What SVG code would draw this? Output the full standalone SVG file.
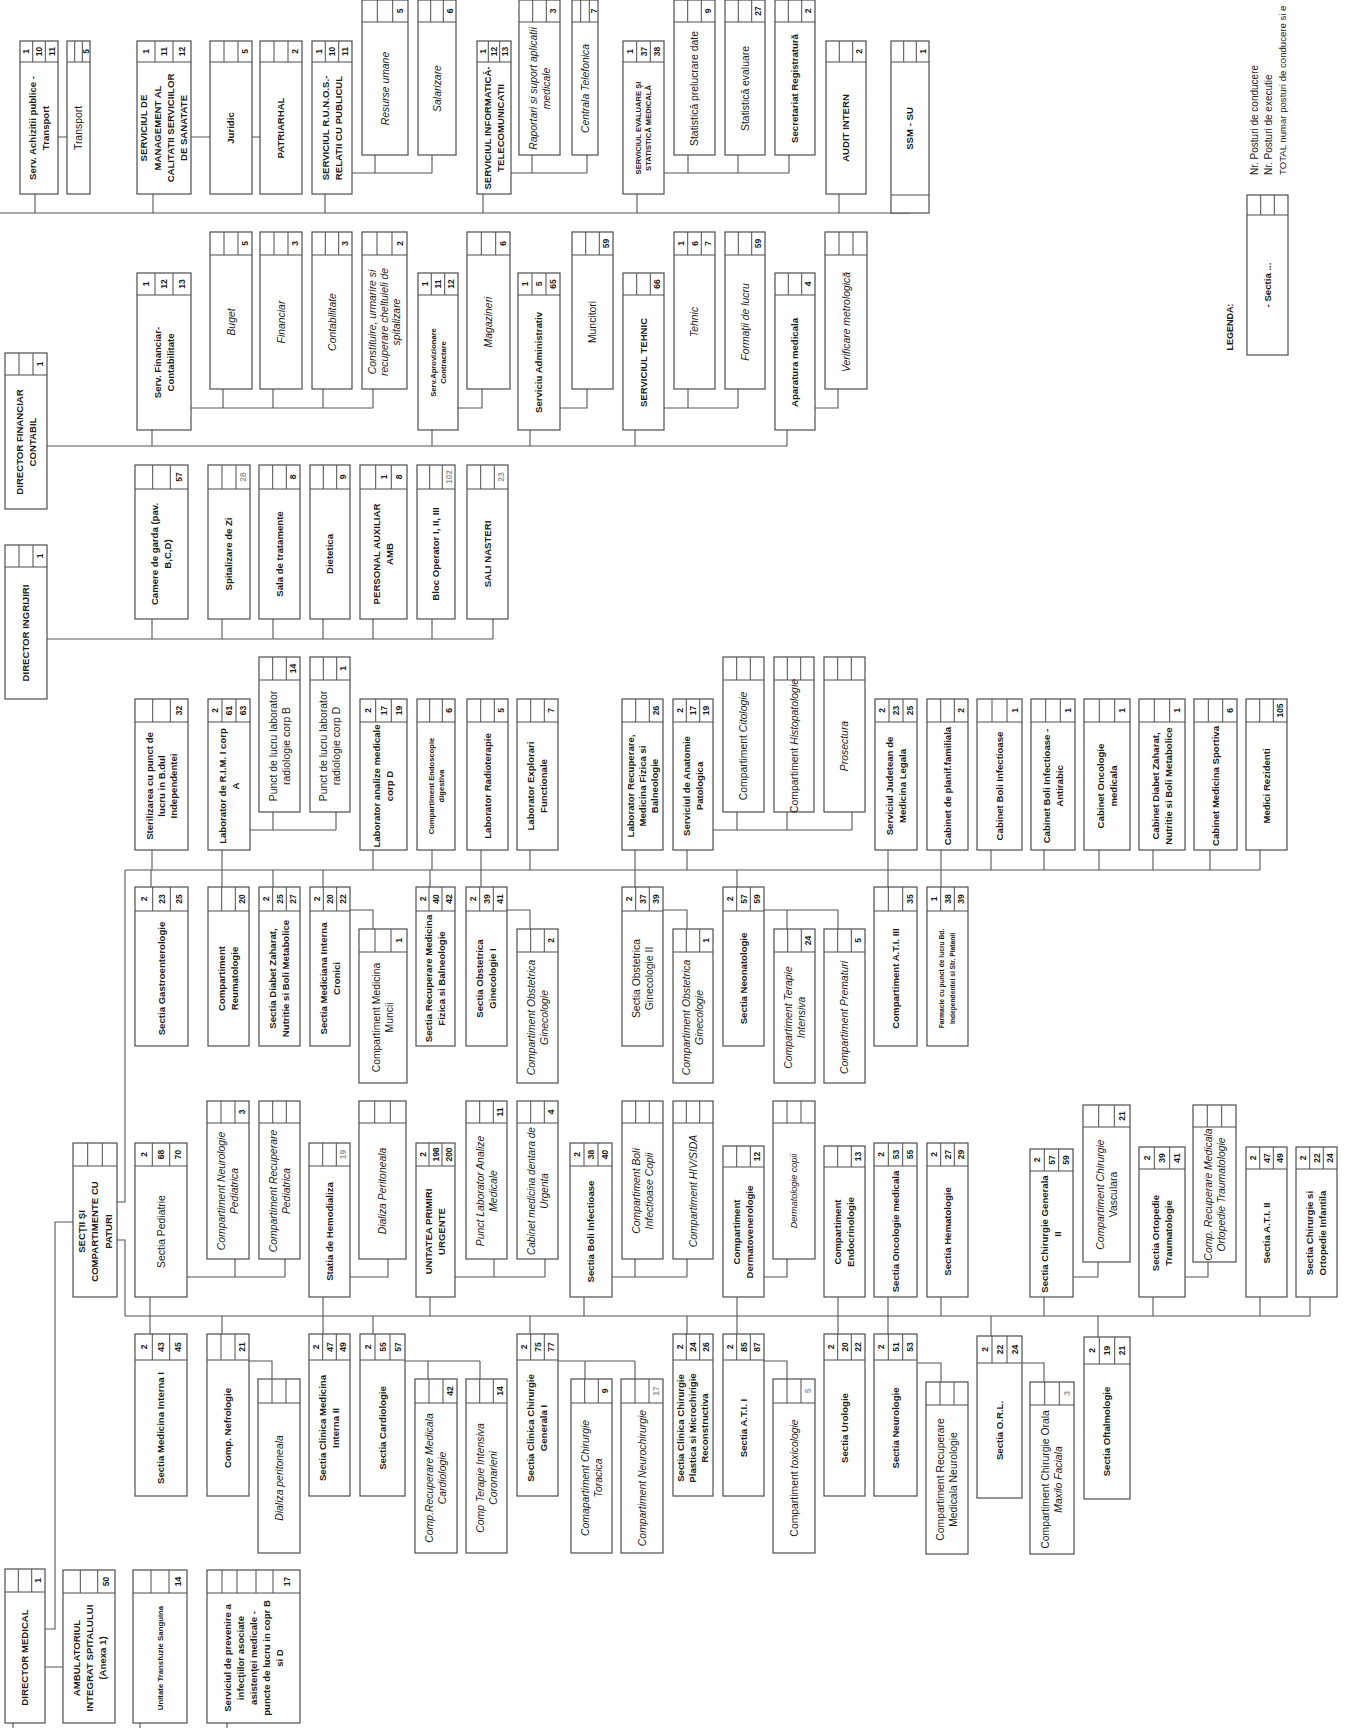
<svg xmlns="http://www.w3.org/2000/svg" width="1351" height="1728" viewBox="0 0 1351 1728">
<style>
.bx rect{fill:#fff;stroke:#4d4d4d;stroke-width:1.2}
.bx path{fill:none;stroke:#4d4d4d;stroke-width:1}
#connectors path{fill:none;stroke:#555;stroke-width:1.1}
text{font-family:"Liberation Sans",Arial,sans-serif;fill:#1a1a1a;text-anchor:middle}
.b{font-size:9.6px;font-weight:bold}
.r{font-size:10.4px}
.i{font-size:10.4px;font-style:italic}
.s{font-size:7.6px;font-weight:bold}
.n{font-size:8.5px;font-weight:bold}
.f{fill:#9a9a9a}
.lg{font-size:10px;text-anchor:start}
</style>
<rect width="1351" height="1728" fill="#fff"/>
<g id="connectors">
<path d="M0 213H910M35 194V213M153 194V213M325 194V213M483 194V213M637 194V213M839 194V213M58 137H67M191 137H210M252 137H260M352 173H432M375 173V155M432 173V155M510 173H587M532 173V155M587 173V155M664 173H789M688 173V155M738 173V155M789 173V155"/>
<path d="M47 446H787M152 430V446M432 430V446M530 430V446M635 430V446M787 430V446M191 408H373M223 389V408M273 389V408M323 389V408M373 389V408M458 408H482V389M560 408H587V389M664 408H738M688 389V408M738 389V408M815 408H838V389"/>
<path d="M47 639H493M152 619V639M222 619V639M273 619V639M323 619V639M373 619V639M432 619V639M493 619V639"/>
<path d="M125 870H1260M152 850V870M222 850V870M373 850V870M432 850V870M481 850V870M530 850V870M635 850V870M687 850V870M888 850V870M941 850V870M991 850V870M1044 850V870M1099 850V870M1153 850V870M1210 850V870M1260 850V870M250 830H336M273 812V830M336 812V830M713 830H852M737 812V830M787 812V830M852 812V830"/>
<path d="M151 870V887M222 870V887M273 870V887M323 870V887M430 870V887M481 870V887M635 870V887M737 870V887M888 870V887M941 870V887M350 910H373V929M507 910H530V929M663 910H687V929M764 910H838M787 910V929M838 910V929"/>
<path d="M117 1202H125V870M117 1240H125V1316M73 1222H55V1629H45M45 1667H63M125 1316H1310"/>
<path d="M150 1297V1316M323 1297V1316M430 1297V1316M584 1297V1316M737 1297V1316M838 1297V1316M888 1297V1316M941 1297V1316M1044 1297V1316M1153 1297V1316M1260 1297V1316M1310 1297V1316M187 1277H285M235 1259V1277M285 1259V1277M350 1277H388V1259M455 1277H545M494 1259V1277M545 1259V1277M612 1277H687M635 1259V1277M687 1259V1277M764 1277H787V1259M1073 1277H1098V1262M1185 1277H1208V1262"/>
<path d="M150 1316V1334M222 1316V1334M323 1316V1334M373 1316V1334M530 1316V1334M687 1316V1334M737 1316V1334M838 1316V1334M888 1316V1334M991 1316V1336M1098 1316V1337M249 1361H272V1379M405 1361H480M428 1361V1379M480 1361V1379M558 1361H635M585 1361V1379M635 1361V1379M764 1361H787V1379M917 1363H941V1382M1022 1363H1044V1382"/>
<path d="M13 1723V1728M140 1723V1728M227 1723V1728"/>
</g>

<g id="serv-achizitii" class="bx" transform="translate(20,41)"><rect width="38" height="153"/><path d="M0 21H38M12.7 0V21M25.3 0V21"/><text class="b" transform="translate(19,87)rotate(-90)"><tspan x="0" y="-3.1">Serv. Achizitii publice -</tspan><tspan x="0" y="9.9">Transport</tspan></text><text class="n" transform="translate(6.3,10.5)rotate(-90)" y="3">1</text><text class="n" transform="translate(19,10.5)rotate(-90)" y="3">10</text><text class="n" transform="translate(31.7,10.5)rotate(-90)" y="3">11</text></g>
<g id="transport" class="bx" transform="translate(67,41)"><rect width="23" height="153"/><path d="M0 21H23M7.7 0V21M15.3 0V21"/><text class="r" transform="translate(11.5,87)rotate(-90)" y="3.7">Transport</text><text class="n" transform="translate(19.2,10.5)rotate(-90)" y="3">5</text></g>
<g id="management-calitate" class="bx" transform="translate(137,41)"><rect width="54" height="153"/><path d="M0 21H54M18 0V21M36 0V21"/><text class="b" transform="translate(27,87)rotate(-90)"><tspan x="0" y="-16.6">SERVICIUL DE</tspan><tspan x="0" y="-3.3">MANAGEMENT AL</tspan><tspan x="0" y="10.1">CALITATII SERVICIILOR</tspan><tspan x="0" y="23.4">DE SANATATE</tspan></text><text class="n" transform="translate(9,10.5)rotate(-90)" y="3">1</text><text class="n" transform="translate(27,10.5)rotate(-90)" y="3">11</text><text class="n" transform="translate(45,10.5)rotate(-90)" y="3">12</text></g>
<g id="juridic" class="bx" transform="translate(210,41)"><rect width="42" height="153"/><path d="M0 21H42M14 0V21M28 0V21"/><text class="b" transform="translate(21,87)rotate(-90)" y="3.4">Juridic</text><text class="n" transform="translate(35,10.5)rotate(-90)" y="3">5</text></g>
<g id="patriarhal" class="bx" transform="translate(260,41)"><rect width="42" height="153"/><path d="M0 21H42M14 0V21M28 0V21"/><text class="b" transform="translate(21,87)rotate(-90)" y="3.4">PATRIARHAL</text><text class="n" transform="translate(35,10.5)rotate(-90)" y="3">2</text></g>
<g id="runos" class="bx" transform="translate(312,41)"><rect width="40" height="153"/><path d="M0 21H40M13.3 0V21M26.7 0V21"/><text class="b" transform="translate(20,87)rotate(-90)"><tspan x="0" y="-3.1">SERVICIUL R.U.N.O.S.-</tspan><tspan x="0" y="9.9">RELATII CU PUBLICUL</tspan></text><text class="n" transform="translate(6.7,10.5)rotate(-90)" y="3">1</text><text class="n" transform="translate(20,10.5)rotate(-90)" y="3">10</text><text class="n" transform="translate(33.3,10.5)rotate(-90)" y="3">11</text></g>
<g id="resurse-umane" class="bx" transform="translate(362,0)"><rect width="46" height="155"/><path d="M0 22H46M15.3 0V22M30.7 0V22"/><text class="i" transform="translate(23,88.5)rotate(-90)" y="3.7">Resurse umane</text><text class="n" transform="translate(38.3,11)rotate(-90)" y="3">5</text></g>
<g id="salarizare" class="bx" transform="translate(418,0)"><rect width="38" height="155"/><path d="M0 22H38M12.7 0V22M25.3 0V22"/><text class="i" transform="translate(19,88.5)rotate(-90)" y="3.7">Salarizare</text><text class="n" transform="translate(31.7,11)rotate(-90)" y="3">6</text></g>
<g id="informatica" class="bx" transform="translate(477,41)"><rect width="34" height="153"/><path d="M0 21H34M11.3 0V21M22.7 0V21"/><text class="b" transform="translate(17,87)rotate(-90)"><tspan x="0" y="-3.1">SERVICIUL INFORMATICĂ-</tspan><tspan x="0" y="9.9">TELECOMUNICATII</tspan></text><text class="n" transform="translate(5.7,10.5)rotate(-90)" y="3">1</text><text class="n" transform="translate(17,10.5)rotate(-90)" y="3">12</text><text class="n" transform="translate(28.3,10.5)rotate(-90)" y="3">13</text></g>
<g id="raportari" class="bx" transform="translate(519,0)"><rect width="41" height="155"/><path d="M0 22H41M13.7 0V22M27.3 0V22"/><text class="i" transform="translate(20.5,88.5)rotate(-90)"><tspan x="0" y="-2.8">Raportari si suport aplicatii</tspan><tspan x="0" y="10.2">medicale</tspan></text><text class="n" transform="translate(34.2,11)rotate(-90)" y="3">3</text></g>
<g id="centrala" class="bx" transform="translate(572,0)"><rect width="26" height="155"/><path d="M0 22H26M8.7 0V22M17.3 0V22"/><text class="i" transform="translate(13,88.5)rotate(-90)" y="3.7">Centrala Telefonica</text><text class="n" transform="translate(21.7,11)rotate(-90)" y="3">7</text></g>
<g id="evaluare-statistica" class="bx" transform="translate(623,41)"><rect width="41" height="153"/><path d="M0 21H41M13.7 0V21M27.3 0V21"/><text class="s" transform="translate(20.5,87)rotate(-90)"><tspan x="0" y="-2.1">SERVICIUL EVALUARE ŞI</tspan><tspan x="0" y="7.5">STATISTICĂ MEDICALĂ</tspan></text><text class="n" transform="translate(6.8,10.5)rotate(-90)" y="3">1</text><text class="n" transform="translate(20.5,10.5)rotate(-90)" y="3">37</text><text class="n" transform="translate(34.2,10.5)rotate(-90)" y="3">38</text></g>
<g id="statistica-prelucrare" class="bx" transform="translate(674,0)"><rect width="41" height="155"/><path d="M0 22H41M13.7 0V22M27.3 0V22"/><text class="r" transform="translate(20.5,88.5)rotate(-90)" y="3.7">Statistică prelucrare date</text><text class="n" transform="translate(34.2,11)rotate(-90)" y="3">9</text></g>
<g id="statistica-evaluare" class="bx" transform="translate(725,0)"><rect width="40" height="155"/><path d="M0 22H40M13.3 0V22M26.7 0V22"/><text class="r" transform="translate(20,88.5)rotate(-90)" y="3.7">Statistică evaluare</text><text class="n" transform="translate(33.3,11)rotate(-90)" y="3">27</text></g>
<g id="secretariat" class="bx" transform="translate(775,0)"><rect width="40" height="155"/><path d="M0 22H40M13.3 0V22M26.7 0V22"/><text class="b" transform="translate(20,88.5)rotate(-90)" y="3.4">Secretariat Registratură</text><text class="n" transform="translate(33.3,11)rotate(-90)" y="3">2</text></g>
<g id="audit-intern" class="bx" transform="translate(826,41)"><rect width="40" height="153"/><path d="M0 21H40M13.3 0V21M26.7 0V21"/><text class="b" transform="translate(20,87)rotate(-90)" y="3.4">AUDIT INTERN</text><text class="n" transform="translate(33.3,10.5)rotate(-90)" y="3">2</text></g>
<g id="ssm-su" class="bx" transform="translate(891,41)"><rect width="38" height="172"/><path d="M0 21H38M12.7 0V21M25.3 0V21M0 154H38"/><text class="b" transform="translate(19,87.5)rotate(-90)" y="3.4">SSM - SU</text><text class="n" transform="translate(31.7,10.5)rotate(-90)" y="3">1</text></g>

<g id="director-financiar" class="bx" transform="translate(5,353)"><rect width="42" height="156"/><path d="M0 22H42M14 0V22M28 0V22"/><text class="b" transform="translate(21,89)rotate(-90)"><tspan x="0" y="-3.1">DIRECTOR FINANCIAR</tspan><tspan x="0" y="9.9">CONTABIL</tspan></text><text class="n" transform="translate(35,11)rotate(-90)" y="3">1</text></g>
<g id="serv-financiar" class="bx" transform="translate(137,273)"><rect width="54" height="157"/><path d="M0 22H54M18 0V22M36 0V22"/><text class="b" transform="translate(27,89.5)rotate(-90)"><tspan x="0" y="-3.1">Serv.  Financiar-</tspan><tspan x="0" y="9.9">Contabilitate</tspan></text><text class="n" transform="translate(9,11)rotate(-90)" y="3">1</text><text class="n" transform="translate(27,11)rotate(-90)" y="3">12</text><text class="n" transform="translate(45,11)rotate(-90)" y="3">13</text></g>
<g id="buget" class="bx" transform="translate(210,232)"><rect width="42" height="157"/><path d="M0 23H42M14 0V23M28 0V23"/><text class="i" transform="translate(21,90)rotate(-90)" y="3.7">Buget</text><text class="n" transform="translate(35,11.5)rotate(-90)" y="3">5</text></g>
<g id="financiar" class="bx" transform="translate(260,232)"><rect width="42" height="157"/><path d="M0 23H42M14 0V23M28 0V23"/><text class="i" transform="translate(21,90)rotate(-90)" y="3.7">Financiar</text><text class="n" transform="translate(35,11.5)rotate(-90)" y="3">3</text></g>
<g id="contabilitate" class="bx" transform="translate(312,232)"><rect width="40" height="157"/><path d="M0 23H40M13.3 0V23M26.7 0V23"/><text class="i" transform="translate(20,90)rotate(-90)" y="3.7">Contabilitate</text><text class="n" transform="translate(33.3,11.5)rotate(-90)" y="3">3</text></g>
<g id="constituire" class="bx" transform="translate(362,232)"><rect width="45" height="157"/><path d="M0 23H45M15 0V23M30 0V23"/><text class="i" transform="translate(22.5,90)rotate(-90)"><tspan x="0" y="-8.3">Constituire, urmarire si</tspan><tspan x="0" y="3.7">recuperare cheltuieli de</tspan><tspan x="0" y="15.7">spitalizare</tspan></text><text class="n" transform="translate(37.5,11.5)rotate(-90)" y="3">2</text></g>
<g id="aprovizionare" class="bx" transform="translate(418,273)"><rect width="40" height="157"/><path d="M0 22H40M13.3 0V22M26.7 0V22"/><text class="s" transform="translate(20,89.5)rotate(-90)"><tspan x="0" y="-2.1">Serv.Aprovizionare</tspan><tspan x="0" y="7.5">Contractare</tspan></text><text class="n" transform="translate(6.7,11)rotate(-90)" y="3">1</text><text class="n" transform="translate(20,11)rotate(-90)" y="3">11</text><text class="n" transform="translate(33.3,11)rotate(-90)" y="3">12</text></g>
<g id="magazineri" class="bx" transform="translate(467,232)"><rect width="43" height="157"/><path d="M0 23H43M14.3 0V23M28.7 0V23"/><text class="i" transform="translate(21.5,90)rotate(-90)" y="3.7">Magazineri</text><text class="n" transform="translate(35.8,11.5)rotate(-90)" y="3">6</text></g>
<g id="serviciu-administrativ" class="bx" transform="translate(518,273)"><rect width="42" height="157"/><path d="M0 22H42M14 0V22M28 0V22"/><text class="b" transform="translate(21,89.5)rotate(-90)" y="3.4">Serviciu Administrativ</text><text class="n" transform="translate(7,11)rotate(-90)" y="3">1</text><text class="n" transform="translate(21,11)rotate(-90)" y="3">5</text><text class="n" transform="translate(35,11)rotate(-90)" y="3">65</text></g>
<g id="muncitori" class="bx" transform="translate(572,232)"><rect width="41" height="157"/><path d="M0 23H41M13.7 0V23M27.3 0V23"/><text class="r" transform="translate(20.5,90)rotate(-90)" y="3.7">Muncitori</text><text class="n" transform="translate(34.2,11.5)rotate(-90)" y="3">59</text></g>
<g id="serviciul-tehnic" class="bx" transform="translate(623,273)"><rect width="41" height="157"/><path d="M0 22H41M13.7 0V22M27.3 0V22"/><text class="b" transform="translate(20.5,89.5)rotate(-90)" y="3.4">SERVICIUL TEHNIC</text><text class="n" transform="translate(34.2,11)rotate(-90)" y="3">66</text></g>
<g id="tehnic" class="bx" transform="translate(674,232)"><rect width="41" height="157"/><path d="M0 23H41M13.7 0V23M27.3 0V23"/><text class="i" transform="translate(20.5,90)rotate(-90)" y="3.7">Tehnic</text><text class="n" transform="translate(6.8,11.5)rotate(-90)" y="3">1</text><text class="n" transform="translate(20.5,11.5)rotate(-90)" y="3">6</text><text class="n" transform="translate(34.2,11.5)rotate(-90)" y="3">7</text></g>
<g id="formatii" class="bx" transform="translate(725,232)"><rect width="40" height="157"/><path d="M0 23H40M13.3 0V23M26.7 0V23"/><text class="i" transform="translate(20,90)rotate(-90)" y="3.7">Formaţii de lucru</text><text class="n" transform="translate(33.3,11.5)rotate(-90)" y="3">59</text></g>
<g id="aparatura" class="bx" transform="translate(775,273)"><rect width="40" height="157"/><path d="M0 22H40M13.3 0V22M26.7 0V22"/><text class="b" transform="translate(20,89.5)rotate(-90)" y="3.4">Aparatura medicala</text><text class="n" transform="translate(33.3,11)rotate(-90)" y="3">4</text></g>
<g id="verificare" class="bx" transform="translate(825,232)"><rect width="42" height="157"/><path d="M0 23H42M14 0V23M28 0V23"/><text class="i" transform="translate(21,90)rotate(-90)" y="3.7">Verificare metrologică</text></g>

<g id="director-ingrijiri" class="bx" transform="translate(5,545)"><rect width="42" height="154"/><path d="M0 22H42M14 0V22M28 0V22"/><text class="b" transform="translate(21,88)rotate(-90)" y="3.4">DIRECTOR INGRIJIRI</text><text class="n" transform="translate(35,11)rotate(-90)" y="3">1</text></g>
<g id="camere-garda" class="bx" transform="translate(135,465)"><rect width="53" height="154"/><path d="M0 24H53M17.7 0V24M35.3 0V24"/><text class="b" transform="translate(26.5,89)rotate(-90)"><tspan x="0" y="-3.1">Camere de garda (pav.</tspan><tspan x="0" y="9.9">B,C,D)</tspan></text><text class="n" transform="translate(44.2,12)rotate(-90)" y="3">57</text></g>
<g id="spitalizare-zi" class="bx" transform="translate(208,465)"><rect width="42" height="154"/><path d="M0 24H42M14 0V24M28 0V24"/><text class="b" transform="translate(21,89)rotate(-90)" y="3.4">Spitalizare de Zi</text><text class="n f" transform="translate(35,12)rotate(-90)" y="3">28</text></g>
<g id="sala-tratamente" class="bx" transform="translate(259,465)"><rect width="41" height="154"/><path d="M0 24H41M13.7 0V24M27.3 0V24"/><text class="b" transform="translate(20.5,89)rotate(-90)" y="3.4">Sala de tratamente</text><text class="n" transform="translate(34.2,12)rotate(-90)" y="3">8</text></g>
<g id="dietetica" class="bx" transform="translate(310,465)"><rect width="40" height="154"/><path d="M0 24H40M13.3 0V24M26.7 0V24"/><text class="b" transform="translate(20,89)rotate(-90)" y="3.4">Dietetica</text><text class="n" transform="translate(33.3,12)rotate(-90)" y="3">9</text></g>
<g id="personal-auxiliar" class="bx" transform="translate(360,465)"><rect width="47" height="154"/><path d="M0 24H47M15.7 0V24M31.3 0V24"/><text class="b" transform="translate(23.5,89)rotate(-90)"><tspan x="0" y="-3.1">PERSONAL AUXILIAR</tspan><tspan x="0" y="9.9">AMB</tspan></text><text class="n" transform="translate(23.5,12)rotate(-90)" y="3">1</text><text class="n" transform="translate(39.2,12)rotate(-90)" y="3">8</text></g>
<g id="bloc-operator" class="bx" transform="translate(417,465)"><rect width="38" height="154"/><path d="M0 24H38M12.7 0V24M25.3 0V24"/><text class="b" transform="translate(19,89)rotate(-90)" y="3.4">Bloc Operator I, II, III</text><text class="n f" transform="translate(31.7,12)rotate(-90)" y="3">102</text></g>
<g id="sali-nasteri" class="bx" transform="translate(467,465)"><rect width="41" height="154"/><path d="M0 24H41M13.7 0V24M27.3 0V24"/><text class="b" transform="translate(20.5,89)rotate(-90)" y="3.4">SALI NASTERI</text><text class="n f" transform="translate(34.2,12)rotate(-90)" y="3">23</text></g>

<g id="sterilizare" class="bx" transform="translate(135,699)"><rect width="53" height="151"/><path d="M0 23H53M17.7 0V23M35.3 0V23"/><text class="b" transform="translate(26.5,87)rotate(-90)"><tspan x="0" y="-8.6">Sterilizarea cu punct de</tspan><tspan x="0" y="3.4">lucru in B.dul</tspan><tspan x="0" y="15.4">Independentei</tspan></text><text class="n" transform="translate(44.2,11.5)rotate(-90)" y="3">32</text></g>
<g id="laborator-rim" class="bx" transform="translate(208,699)"><rect width="42" height="151"/><path d="M0 23H42M14 0V23M28 0V23"/><text class="b" transform="translate(21,87)rotate(-90)"><tspan x="0" y="-3.1">Laborator de R.I.M. I corp</tspan><tspan x="0" y="9.9">A</tspan></text><text class="n" transform="translate(7,11.5)rotate(-90)" y="3">2</text><text class="n" transform="translate(21,11.5)rotate(-90)" y="3">61</text><text class="n" transform="translate(35,11.5)rotate(-90)" y="3">63</text></g>
<g id="radiologie-b" class="bx" transform="translate(259,657)"><rect width="41" height="155"/><path d="M0 23H41M13.7 0V23M27.3 0V23"/><text class="r" transform="translate(20.5,89)rotate(-90)"><tspan x="0" y="-2.8">Punct de lucru laborator</tspan><tspan x="0" y="10.2">radiologie corp B</tspan></text><text class="n" transform="translate(34.2,11.5)rotate(-90)" y="3">14</text></g>
<g id="radiologie-d" class="bx" transform="translate(310,657)"><rect width="40" height="155"/><path d="M0 23H40M13.3 0V23M26.7 0V23"/><text class="r" transform="translate(20,89)rotate(-90)"><tspan x="0" y="-2.8">Punct de lucru laborator</tspan><tspan x="0" y="10.2">radiologie corp D</tspan></text><text class="n" transform="translate(33.3,11.5)rotate(-90)" y="3">1</text></g>
<g id="laborator-analize" class="bx" transform="translate(360,699)"><rect width="47" height="151"/><path d="M0 23H47M15.7 0V23M31.3 0V23"/><text class="b" transform="translate(23.5,87)rotate(-90)"><tspan x="0" y="-3.1">Laborator analize medicale</tspan><tspan x="0" y="9.9">corp D</tspan></text><text class="n" transform="translate(7.8,11.5)rotate(-90)" y="3">2</text><text class="n" transform="translate(23.5,11.5)rotate(-90)" y="3">17</text><text class="n" transform="translate(39.2,11.5)rotate(-90)" y="3">19</text></g>
<g id="endoscopie" class="bx" transform="translate(417,699)"><rect width="38" height="151"/><path d="M0 23H38M12.7 0V23M25.3 0V23"/><text class="s" transform="translate(19,87)rotate(-90)"><tspan x="0" y="-2.1">Compartiment Endoscopie</tspan><tspan x="0" y="7.5">digestiva</tspan></text><text class="n" transform="translate(31.7,11.5)rotate(-90)" y="3">6</text></g>
<g id="radioterapie" class="bx" transform="translate(467,699)"><rect width="41" height="151"/><path d="M0 23H41M13.7 0V23M27.3 0V23"/><text class="b" transform="translate(20.5,87)rotate(-90)" y="3.4">Laborator Radioterapie</text><text class="n" transform="translate(34.2,11.5)rotate(-90)" y="3">5</text></g>
<g id="explorari" class="bx" transform="translate(517,699)"><rect width="41" height="151"/><path d="M0 23H41M13.7 0V23M27.3 0V23"/><text class="b" transform="translate(20.5,87)rotate(-90)"><tspan x="0" y="-3.1">Laborator Explorari</tspan><tspan x="0" y="9.9">Functionale</tspan></text><text class="n" transform="translate(34.2,11.5)rotate(-90)" y="3">7</text></g>
<g id="lab-recuperare" class="bx" transform="translate(622,699)"><rect width="41" height="151"/><path d="M0 23H41M13.7 0V23M27.3 0V23"/><text class="b" transform="translate(20.5,87)rotate(-90)"><tspan x="0" y="-8.6">Laborator Recuperare,</tspan><tspan x="0" y="3.4">Medicina Fizica si</tspan><tspan x="0" y="15.4">Balneologie</tspan></text><text class="n" transform="translate(34.2,11.5)rotate(-90)" y="3">26</text></g>
<g id="anatomie-patologica" class="bx" transform="translate(673,699)"><rect width="40" height="151"/><path d="M0 23H40M13.3 0V23M26.7 0V23"/><text class="b" transform="translate(20,87)rotate(-90)"><tspan x="0" y="-3.1">Serviciul de Anatomie</tspan><tspan x="0" y="9.9">Patologica</tspan></text><text class="n" transform="translate(6.7,11.5)rotate(-90)" y="3">2</text><text class="n" transform="translate(20,11.5)rotate(-90)" y="3">17</text><text class="n" transform="translate(33.3,11.5)rotate(-90)" y="3">19</text></g>
<g id="citologie" class="bx" transform="translate(723,657)"><rect width="41" height="155"/><path d="M0 23H41M13.7 0V23M27.3 0V23"/><text class="r" transform="translate(20.5,89)rotate(-90)" y="3.7">Compartiment <tspan font-style="italic">Citologie</tspan></text></g>
<g id="histopatologie" class="bx" transform="translate(774,657)"><rect width="40" height="155"/><path d="M0 23H40M13.3 0V23M26.7 0V23"/><text class="r" transform="translate(20,89)rotate(-90)" y="3.7">Compartiment <tspan font-style="italic">Histopatologie</tspan></text></g>
<g id="prosectura" class="bx" transform="translate(824,657)"><rect width="41" height="155"/><path d="M0 23H41M13.7 0V23M27.3 0V23"/><text class="i" transform="translate(20.5,89)rotate(-90)" y="3.7">Prosectura</text></g>
<g id="medicina-legala" class="bx" transform="translate(875,699)"><rect width="42" height="151"/><path d="M0 23H42M14 0V23M28 0V23"/><text class="b" transform="translate(21,87)rotate(-90)"><tspan x="0" y="-3.1">Serviciul Judetean de</tspan><tspan x="0" y="9.9">Medicina Legala</tspan></text><text class="n" transform="translate(7,11.5)rotate(-90)" y="3">2</text><text class="n" transform="translate(21,11.5)rotate(-90)" y="3">23</text><text class="n" transform="translate(35,11.5)rotate(-90)" y="3">25</text></g>
<g id="cabinet-planificare" class="bx" transform="translate(927,699)"><rect width="41" height="151"/><path d="M0 23H41M13.7 0V23M27.3 0V23"/><text class="b" transform="translate(20.5,87)rotate(-90)" y="3.4">Cabinet de planif.familiala</text><text class="n" transform="translate(34.2,11.5)rotate(-90)" y="3">2</text></g>
<g id="cabinet-boli-inf" class="bx" transform="translate(977,699)"><rect width="45" height="151"/><path d="M0 23H45M15 0V23M30 0V23"/><text class="b" transform="translate(22.5,87)rotate(-90)" y="3.4">Cabinet Boli Infectioase</text><text class="n" transform="translate(37.5,11.5)rotate(-90)" y="3">1</text></g>
<g id="cabinet-antirabic" class="bx" transform="translate(1031,699)"><rect width="44" height="151"/><path d="M0 23H44M14.7 0V23M29.3 0V23"/><text class="b" transform="translate(22,87)rotate(-90)"><tspan x="0" y="-3.1">Cabinet Boli Infectioase -</tspan><tspan x="0" y="9.9">Antirabic</tspan></text><text class="n" transform="translate(36.7,11.5)rotate(-90)" y="3">1</text></g>
<g id="cabinet-oncologie" class="bx" transform="translate(1084,699)"><rect width="46" height="151"/><path d="M0 23H46M15.3 0V23M30.7 0V23"/><text class="b" transform="translate(23,87)rotate(-90)"><tspan x="0" y="-3.1">Cabinet Oncologie</tspan><tspan x="0" y="9.9">medicala</tspan></text><text class="n" transform="translate(38.3,11.5)rotate(-90)" y="3">1</text></g>
<g id="cabinet-diabet" class="bx" transform="translate(1139,699)"><rect width="46" height="151"/><path d="M0 23H46M15.3 0V23M30.7 0V23"/><text class="b" transform="translate(23,87)rotate(-90)"><tspan x="0" y="-3.1">Cabinet Diabet Zaharat,</tspan><tspan x="0" y="9.9">Nutritie si Boli Metabolice</tspan></text><text class="n" transform="translate(38.3,11.5)rotate(-90)" y="3">1</text></g>
<g id="cabinet-sportiva" class="bx" transform="translate(1194,699)"><rect width="43" height="151"/><path d="M0 23H43M14.3 0V23M28.7 0V23"/><text class="b" transform="translate(21.5,87)rotate(-90)" y="3.4">Cabinet Medicina Sportiva</text><text class="n" transform="translate(35.8,11.5)rotate(-90)" y="3">6</text></g>
<g id="medici-rezidenti" class="bx" transform="translate(1246,699)"><rect width="41" height="151"/><path d="M0 23H41M13.7 0V23M27.3 0V23"/><text class="b" transform="translate(20.5,87)rotate(-90)" y="3.4">Medici Rezidenti</text><text class="n" transform="translate(34.2,11.5)rotate(-90)" y="3">105</text></g>

<g id="gastroenterologie" class="bx" transform="translate(135,887)"><rect width="53" height="159"/><path d="M0 24H53M17.7 0V24M35.3 0V24"/><text class="b" transform="translate(26.5,91.5)rotate(-90)" y="3.4">Sectia  Gastroenterologie</text><text class="n" transform="translate(8.8,12)rotate(-90)" y="3">2</text><text class="n" transform="translate(26.5,12)rotate(-90)" y="3">23</text><text class="n" transform="translate(44.2,12)rotate(-90)" y="3">25</text></g>
<g id="reumatologie" class="bx" transform="translate(208,887)"><rect width="41" height="159"/><path d="M0 24H41M13.7 0V24M27.3 0V24"/><text class="b" transform="translate(20.5,91.5)rotate(-90)"><tspan x="0" y="-3.1">Compartiment</tspan><tspan x="0" y="9.9">Reumatologie</tspan></text><text class="n" transform="translate(34.2,12)rotate(-90)" y="3">20</text></g>
<g id="sectia-diabet" class="bx" transform="translate(259,887)"><rect width="41" height="159"/><path d="M0 24H41M13.7 0V24M27.3 0V24"/><text class="b" transform="translate(20.5,91.5)rotate(-90)"><tspan x="0" y="-3.1">Sectia Diabet Zaharat,</tspan><tspan x="0" y="9.9">Nutritie si Boli Metabolice</tspan></text><text class="n" transform="translate(6.8,12)rotate(-90)" y="3">2</text><text class="n" transform="translate(20.5,12)rotate(-90)" y="3">25</text><text class="n" transform="translate(34.2,12)rotate(-90)" y="3">27</text></g>
<g id="interna-cronici" class="bx" transform="translate(310,887)"><rect width="40" height="159"/><path d="M0 24H40M13.3 0V24M26.7 0V24"/><text class="b" transform="translate(20,91.5)rotate(-90)"><tspan x="0" y="-3.1">Sectia Mediciana Interna</tspan><tspan x="0" y="9.9">Cronici</tspan></text><text class="n" transform="translate(6.7,12)rotate(-90)" y="3">2</text><text class="n" transform="translate(20,12)rotate(-90)" y="3">20</text><text class="n" transform="translate(33.3,12)rotate(-90)" y="3">22</text></g>
<g id="medicina-muncii" class="bx" transform="translate(359,929)"><rect width="48" height="154"/><path d="M0 23H48M16 0V23M32 0V23"/><text class="r" transform="translate(24,88.5)rotate(-90)"><tspan x="0" y="-2.8">Compartiment Medicina</tspan><tspan x="0" y="10.2">Muncii</tspan></text><text class="n" transform="translate(40,11.5)rotate(-90)" y="3">1</text></g>
<g id="recuperare-fizica" class="bx" transform="translate(416,887)"><rect width="39" height="159"/><path d="M0 24H39M13 0V24M26 0V24"/><text class="b" transform="translate(19.5,91.5)rotate(-90)"><tspan x="0" y="-3.1">Sectia Recuperare Medicina</tspan><tspan x="0" y="9.9">Fizica si Balneologie</tspan></text><text class="n" transform="translate(6.5,12)rotate(-90)" y="3">2</text><text class="n" transform="translate(19.5,12)rotate(-90)" y="3">40</text><text class="n" transform="translate(32.5,12)rotate(-90)" y="3">42</text></g>
<g id="obstetrica-1" class="bx" transform="translate(466,887)"><rect width="41" height="159"/><path d="M0 24H41M13.7 0V24M27.3 0V24"/><text class="b" transform="translate(20.5,91.5)rotate(-90)"><tspan x="0" y="-3.1">Sectia Obstetrica</tspan><tspan x="0" y="9.9">Ginecologie I</tspan></text><text class="n" transform="translate(6.8,12)rotate(-90)" y="3">2</text><text class="n" transform="translate(20.5,12)rotate(-90)" y="3">39</text><text class="n" transform="translate(34.2,12)rotate(-90)" y="3">41</text></g>
<g id="comp-obstetrica-1" class="bx" transform="translate(517,929)"><rect width="41" height="154"/><path d="M0 23H41M13.7 0V23M27.3 0V23"/><text class="i" transform="translate(20.5,88.5)rotate(-90)"><tspan x="0" y="-2.8">Compartiment Obstetrica</tspan><tspan x="0" y="10.2">Ginecologie</tspan></text><text class="n" transform="translate(34.2,11.5)rotate(-90)" y="3">2</text></g>
<g id="obstetrica-2" class="bx" transform="translate(622,887)"><rect width="41" height="159"/><path d="M0 24H41M13.7 0V24M27.3 0V24"/><text class="r" transform="translate(20.5,91.5)rotate(-90)"><tspan x="0" y="-2.8">Sectia Obstetrica</tspan><tspan x="0" y="10.2">Ginecologie II</tspan></text><text class="n" transform="translate(6.8,12)rotate(-90)" y="3">2</text><text class="n" transform="translate(20.5,12)rotate(-90)" y="3">37</text><text class="n" transform="translate(34.2,12)rotate(-90)" y="3">39</text></g>
<g id="comp-obstetrica-2" class="bx" transform="translate(673,929)"><rect width="40" height="154"/><path d="M0 23H40M13.3 0V23M26.7 0V23"/><text class="i" transform="translate(20,88.5)rotate(-90)"><tspan x="0" y="-2.8">Compartiment Obstetrica</tspan><tspan x="0" y="10.2">Ginecologie</tspan></text><text class="n" transform="translate(33.3,11.5)rotate(-90)" y="3">1</text></g>
<g id="neonatologie" class="bx" transform="translate(723,887)"><rect width="41" height="159"/><path d="M0 24H41M13.7 0V24M27.3 0V24"/><text class="b" transform="translate(20.5,91.5)rotate(-90)" y="3.4">Sectia Neonatologie</text><text class="n" transform="translate(6.8,12)rotate(-90)" y="3">2</text><text class="n" transform="translate(20.5,12)rotate(-90)" y="3">57</text><text class="n" transform="translate(34.2,12)rotate(-90)" y="3">59</text></g>
<g id="terapie-intensiva-neo" class="bx" transform="translate(774,929)"><rect width="41" height="154"/><path d="M0 23H41M13.7 0V23M27.3 0V23"/><text class="i" transform="translate(20.5,88.5)rotate(-90)"><tspan x="0" y="-2.8">Compartiment Terapie</tspan><tspan x="0" y="10.2">Intensiva</tspan></text><text class="n" transform="translate(34.2,11.5)rotate(-90)" y="3">24</text></g>
<g id="prematuri" class="bx" transform="translate(824,929)"><rect width="41" height="154"/><path d="M0 23H41M13.7 0V23M27.3 0V23"/><text class="i" transform="translate(20.5,88.5)rotate(-90)" y="3.7">Compartiment Prematuri</text><text class="n" transform="translate(34.2,11.5)rotate(-90)" y="3">5</text></g>
<g id="ati-3" class="bx" transform="translate(874,887)"><rect width="43" height="159"/><path d="M0 24H43M14.3 0V24M28.7 0V24"/><text class="b" transform="translate(21.5,91.5)rotate(-90)" y="3.4">Compartiment A.T.I. III</text><text class="n" transform="translate(35.8,12)rotate(-90)" y="3">35</text></g>
<g id="farmacie" class="bx" transform="translate(927,887)"><rect width="41" height="159"/><path d="M0 24H41M13.7 0V24M27.3 0V24"/><text style="font-size:6.7px;font-weight:bold" transform="translate(20.5,91.5)rotate(-90)"><tspan x="0" y="-3.2">Farmacie cu punct de lucru  Bd.</tspan><tspan x="0" y="7.8">Independentei si Str. Platanii</tspan></text><text class="n" transform="translate(6.8,12)rotate(-90)" y="3">1</text><text class="n" transform="translate(20.5,12)rotate(-90)" y="3">38</text><text class="n" transform="translate(34.2,12)rotate(-90)" y="3">39</text></g>

<g id="sectii-compartimente" class="bx" transform="translate(73,1143)"><rect width="44" height="154"/><path d="M0 23H44M14.7 0V23M29.3 0V23"/><text class="b" transform="translate(22,88.5)rotate(-90)"><tspan x="0" y="-10.1">SECŢII ŞI</tspan><tspan x="0" y="3.4">COMPARTIMENTE CU</tspan><tspan x="0" y="16.9">PATURI</tspan></text></g>
<g id="pediatrie" class="bx" transform="translate(135,1143)"><rect width="52" height="154"/><path d="M0 23H52M17.3 0V23M34.7 0V23"/><text class="r" transform="translate(26,88.5)rotate(-90)" y="3.7">Sectia Pediatrie</text><text class="n" transform="translate(8.7,11.5)rotate(-90)" y="3">2</text><text class="n" transform="translate(26,11.5)rotate(-90)" y="3">68</text><text class="n" transform="translate(43.3,11.5)rotate(-90)" y="3">70</text></g>
<g id="neurologie-pediatrica" class="bx" transform="translate(207,1101)"><rect width="42" height="158"/><path d="M0 22H42M14 0V22M28 0V22"/><text class="i" transform="translate(21,90)rotate(-90)"><tspan x="0" y="-2.8">Compartiment Neurologie</tspan><tspan x="0" y="10.2">Pediatrica</tspan></text><text class="n" transform="translate(35,11)rotate(-90)" y="3">3</text></g>
<g id="recuperare-pediatrica" class="bx" transform="translate(259,1101)"><rect width="41" height="158"/><path d="M0 22H41M13.7 0V22M27.3 0V22"/><text class="i" transform="translate(20.5,90)rotate(-90)"><tspan x="0" y="-2.8">Compartiment Recuperare</tspan><tspan x="0" y="10.2">Pediatrica</tspan></text></g>
<g id="hemodializa" class="bx" transform="translate(309,1143)"><rect width="41" height="154"/><path d="M0 23H41M13.7 0V23M27.3 0V23"/><text class="b" transform="translate(20.5,88.5)rotate(-90)" y="3.4">Statia de Hemodializa</text><text class="n f" transform="translate(34.2,11.5)rotate(-90)" y="3">19</text></g>
<g id="dializa-peritoneala-1" class="bx" transform="translate(359,1101)"><rect width="47" height="158"/><path d="M0 22H47M15.7 0V22M31.3 0V22"/><text class="i" transform="translate(23.5,90)rotate(-90)" y="3.7">Dializa Peritoneala</text></g>
<g id="upu" class="bx" transform="translate(416,1143)"><rect width="39" height="154"/><path d="M0 23H39M13 0V23M26 0V23"/><text class="b" transform="translate(19.5,88.5)rotate(-90)"><tspan x="0" y="-3.1">UNITATEA PRIMIRI</tspan><tspan x="0" y="9.9">URGENTE</tspan></text><text class="n" transform="translate(6.5,11.5)rotate(-90)" y="3">2</text><text class="n" transform="translate(19.5,11.5)rotate(-90)" y="3">198</text><text class="n" transform="translate(32.5,11.5)rotate(-90)" y="3">200</text></g>
<g id="punct-laborator" class="bx" transform="translate(466,1101)"><rect width="41" height="158"/><path d="M0 22H41M13.7 0V22M27.3 0V22"/><text class="i" transform="translate(20.5,90)rotate(-90)"><tspan x="0" y="-2.8">Punct Laborator Analize</tspan><tspan x="0" y="10.2">Medicale</tspan></text><text class="n" transform="translate(34.2,11)rotate(-90)" y="3">11</text></g>
<g id="cabinet-dentara" class="bx" transform="translate(517,1101)"><rect width="41" height="158"/><path d="M0 22H41M13.7 0V22M27.3 0V22"/><text class="i" style="font-size:10px" transform="translate(20.5,90)rotate(-90)"><tspan x="0" y="-2.8">Cabinet medicina dentara de</tspan><tspan x="0" y="10.2">Urgenta</tspan></text><text class="n" transform="translate(34.2,11)rotate(-90)" y="3">4</text></g>
<g id="boli-infectioase" class="bx" transform="translate(570,1143)"><rect width="42" height="154"/><path d="M0 23H42M14 0V23M28 0V23"/><text class="b" transform="translate(21,88.5)rotate(-90)" y="3.4">Sectia Boli Infectioase</text><text class="n" transform="translate(7,11.5)rotate(-90)" y="3">2</text><text class="n" transform="translate(21,11.5)rotate(-90)" y="3">38</text><text class="n" transform="translate(35,11.5)rotate(-90)" y="3">40</text></g>
<g id="boli-infectioase-copii" class="bx" transform="translate(622,1101)"><rect width="41" height="158"/><path d="M0 22H41M13.7 0V22M27.3 0V22"/><text class="i" transform="translate(20.5,90)rotate(-90)"><tspan x="0" y="-2.8">Compartiment Boli</tspan><tspan x="0" y="10.2">Infectioase Copii</tspan></text></g>
<g id="hiv-sida" class="bx" transform="translate(673,1101)"><rect width="40" height="158"/><path d="M0 22H40M13.3 0V22M26.7 0V22"/><text class="i" transform="translate(20,90)rotate(-90)" y="3.7">Compartiment HIV/SIDA</text></g>
<g id="dermatovenerologie" class="bx" transform="translate(723,1146)"><rect width="41" height="151"/><path d="M0 21H41M13.7 0V21M27.3 0V21"/><text class="b" transform="translate(20.5,86)rotate(-90)"><tspan x="0" y="-3.1">Compartiment</tspan><tspan x="0" y="9.9">Dermatovenerologie</tspan></text><text class="n" transform="translate(34.2,10.5)rotate(-90)" y="3">12</text></g>
<g id="dermatologie-copii" class="bx" transform="translate(773,1101)"><rect width="42" height="158"/><path d="M0 22H42M14 0V22M28 0V22"/><text class="i" style="font-size:9px" transform="translate(21,90)rotate(-90)" y="3.2">Dermatologie copii</text></g>
<g id="endocrinologie" class="bx" transform="translate(824,1146)"><rect width="41" height="151"/><path d="M0 21H41M13.7 0V21M27.3 0V21"/><text class="b" transform="translate(20.5,86)rotate(-90)"><tspan x="0" y="-3.1">Compartiment</tspan><tspan x="0" y="9.9">Endocrinologie</tspan></text><text class="n" transform="translate(34.2,10.5)rotate(-90)" y="3">13</text></g>
<g id="oncologie-medicala" class="bx" transform="translate(874,1143)"><rect width="43" height="154"/><path d="M0 23H43M14.3 0V23M28.7 0V23"/><text class="b" transform="translate(21.5,88.5)rotate(-90)" y="3.4">Sectia Oncologie medicala</text><text class="n" transform="translate(7.2,11.5)rotate(-90)" y="3">2</text><text class="n" transform="translate(21.5,11.5)rotate(-90)" y="3">53</text><text class="n" transform="translate(35.8,11.5)rotate(-90)" y="3">55</text></g>
<g id="hematologie" class="bx" transform="translate(927,1143)"><rect width="41" height="154"/><path d="M0 23H41M13.7 0V23M27.3 0V23"/><text class="b" transform="translate(20.5,88.5)rotate(-90)" y="3.4">Sectia Hematologie</text><text class="n" transform="translate(6.8,11.5)rotate(-90)" y="3">2</text><text class="n" transform="translate(20.5,11.5)rotate(-90)" y="3">27</text><text class="n" transform="translate(34.2,11.5)rotate(-90)" y="3">29</text></g>
<g id="chirurgie-generala-2" class="bx" transform="translate(1030,1149)"><rect width="43" height="148"/><path d="M0 22H43M14.3 0V22M28.7 0V22"/><text class="b" transform="translate(21.5,85)rotate(-90)"><tspan x="0" y="-3.1">Sectia Chirurgie Generala</tspan><tspan x="0" y="9.9">II</tspan></text><text class="n" transform="translate(7.2,11)rotate(-90)" y="3">2</text><text class="n" transform="translate(21.5,11)rotate(-90)" y="3">57</text><text class="n" transform="translate(35.8,11)rotate(-90)" y="3">59</text></g>
<g id="chirurgie-vasculara" class="bx" transform="translate(1083,1105)"><rect width="47" height="157"/><path d="M0 22H47M15.7 0V22M31.3 0V22"/><text class="r" transform="translate(23.5,89.5)rotate(-90)"><tspan x="0" y="-2.8" font-style="italic">Compartiment Chirurgie</tspan><tspan x="0" y="10.2">Vasculara</tspan></text><text class="n" transform="translate(39.2,11)rotate(-90)" y="3">21</text></g>
<g id="ortopedie" class="bx" transform="translate(1139,1147)"><rect width="46" height="150"/><path d="M0 22H46M15.3 0V22M30.7 0V22"/><text class="b" transform="translate(23,86)rotate(-90)"><tspan x="0" y="-3.1">Sectia Ortopedie</tspan><tspan x="0" y="9.9">Traumatologie</tspan></text><text class="n" transform="translate(7.7,11)rotate(-90)" y="3">2</text><text class="n" transform="translate(23,11)rotate(-90)" y="3">39</text><text class="n" transform="translate(38.3,11)rotate(-90)" y="3">41</text></g>
<g id="recuperare-ortopedie" class="bx" transform="translate(1193,1105)"><rect width="43" height="157"/><path d="M0 22H43M14.3 0V22M28.7 0V22"/><text class="i" transform="translate(21.5,89.5)rotate(-90)"><tspan x="0" y="-2.8">Comp. Recuperare Medicala</tspan><tspan x="0" y="10.2">Ortopedie Traumatologie</tspan></text></g>
<g id="ati-2" class="bx" transform="translate(1246,1147)"><rect width="41" height="150"/><path d="M0 22H41M13.7 0V22M27.3 0V22"/><text class="b" transform="translate(20.5,86)rotate(-90)" y="3.4">Sectia A.T.I. II</text><text class="n" transform="translate(6.8,11)rotate(-90)" y="3">2</text><text class="n" transform="translate(20.5,11)rotate(-90)" y="3">47</text><text class="n" transform="translate(34.2,11)rotate(-90)" y="3">49</text></g>
<g id="chirurgie-infantila" class="bx" transform="translate(1296,1147)"><rect width="41" height="150"/><path d="M0 22H41M13.7 0V22M27.3 0V22"/><text class="b" transform="translate(20.5,86)rotate(-90)"><tspan x="0" y="-3.1">Sectia Chirurgie si</tspan><tspan x="0" y="9.9">Ortopedie Infantila</tspan></text><text class="n" transform="translate(6.8,11)rotate(-90)" y="3">2</text><text class="n" transform="translate(20.5,11)rotate(-90)" y="3">22</text><text class="n" transform="translate(34.2,11)rotate(-90)" y="3">24</text></g>

<g id="medicina-interna-1" class="bx" transform="translate(135,1334)"><rect width="52" height="162"/><path d="M0 26H52M17.3 0V26M34.7 0V26"/><text class="b" transform="translate(26,94)rotate(-90)" y="3.4">Sectia Medicina Interna I</text><text class="n" transform="translate(8.7,13)rotate(-90)" y="3">2</text><text class="n" transform="translate(26,13)rotate(-90)" y="3">43</text><text class="n" transform="translate(43.3,13)rotate(-90)" y="3">45</text></g>
<g id="nefrologie" class="bx" transform="translate(207,1334)"><rect width="42" height="162"/><path d="M0 26H42M14 0V26M28 0V26"/><text class="b" transform="translate(21,94)rotate(-90)" y="3.4">Comp. Nefrologie</text><text class="n" transform="translate(35,13)rotate(-90)" y="3">21</text></g>
<g id="dializa-peritoneala-2" class="bx" transform="translate(258,1379)"><rect width="42" height="174"/><path d="M0 24H42M14 0V24M28 0V24"/><text class="i" transform="translate(21,99)rotate(-90)" y="3.7">Dializa peritoneala</text></g>
<g id="medicina-interna-2" class="bx" transform="translate(309,1334)"><rect width="41" height="162"/><path d="M0 26H41M13.7 0V26M27.3 0V26"/><text class="b" transform="translate(20.5,94)rotate(-90)"><tspan x="0" y="-3.1">Sectia Clinica Medicina</tspan><tspan x="0" y="9.9">Interna II</tspan></text><text class="n" transform="translate(6.8,13)rotate(-90)" y="3">2</text><text class="n" transform="translate(20.5,13)rotate(-90)" y="3">47</text><text class="n" transform="translate(34.2,13)rotate(-90)" y="3">49</text></g>
<g id="cardiologie" class="bx" transform="translate(360,1334)"><rect width="45" height="162"/><path d="M0 26H45M15 0V26M30 0V26"/><text class="b" transform="translate(22.5,94)rotate(-90)" y="3.4">Sectia Cardiologie</text><text class="n" transform="translate(7.5,13)rotate(-90)" y="3">2</text><text class="n" transform="translate(22.5,13)rotate(-90)" y="3">55</text><text class="n" transform="translate(37.5,13)rotate(-90)" y="3">57</text></g>
<g id="recuperare-cardiologie" class="bx" transform="translate(415,1379)"><rect width="42" height="174"/><path d="M0 24H42M14 0V24M28 0V24"/><text class="i" transform="translate(21,99)rotate(-90)"><tspan x="0" y="-2.8">Comp.Recuperare Medicala</tspan><tspan x="0" y="10.2">Cardiologie</tspan></text><text class="n" transform="translate(35,12)rotate(-90)" y="3">42</text></g>
<g id="terapie-coronarieni" class="bx" transform="translate(466,1379)"><rect width="41" height="174"/><path d="M0 24H41M13.7 0V24M27.3 0V24"/><text class="i" transform="translate(20.5,99)rotate(-90)"><tspan x="0" y="-2.8">Comp Terapie Intensiva</tspan><tspan x="0" y="10.2">Coronarieni</tspan></text><text class="n" transform="translate(34.2,12)rotate(-90)" y="3">14</text></g>
<g id="chirurgie-generala-1" class="bx" transform="translate(517,1334)"><rect width="41" height="162"/><path d="M0 26H41M13.7 0V26M27.3 0V26"/><text class="b" transform="translate(20.5,94)rotate(-90)"><tspan x="0" y="-3.1">Sectia Clinica Chirurgie</tspan><tspan x="0" y="9.9">Generala I</tspan></text><text class="n" transform="translate(6.8,13)rotate(-90)" y="3">2</text><text class="n" transform="translate(20.5,13)rotate(-90)" y="3">75</text><text class="n" transform="translate(34.2,13)rotate(-90)" y="3">77</text></g>
<g id="chirurgie-toracica" class="bx" transform="translate(571,1379)"><rect width="41" height="174"/><path d="M0 24H41M13.7 0V24M27.3 0V24"/><text class="i" transform="translate(20.5,99)rotate(-90)"><tspan x="0" y="-2.8">Comapartiment Chirurgie</tspan><tspan x="0" y="10.2">Toracica</tspan></text><text class="n" transform="translate(34.2,12)rotate(-90)" y="3">9</text></g>
<g id="neurochirurgie" class="bx" transform="translate(621,1379)"><rect width="42" height="174"/><path d="M0 24H42M14 0V24M28 0V24"/><text class="i" transform="translate(21,99)rotate(-90)" y="3.7">Compartiment Neurochirurgie</text><text class="n f" transform="translate(35,12)rotate(-90)" y="3">17</text></g>
<g id="chirurgie-plastica" class="bx" transform="translate(673,1334)"><rect width="40" height="162"/><path d="M0 26H40M13.3 0V26M26.7 0V26"/><text class="b" transform="translate(20,94)rotate(-90)"><tspan x="0" y="-8.6">Sectia Clinica Chirurgie</tspan><tspan x="0" y="3.4">Plastica si Microchirigie</tspan><tspan x="0" y="15.4">Reconstructiva</tspan></text><text class="n" transform="translate(6.7,13)rotate(-90)" y="3">2</text><text class="n" transform="translate(20,13)rotate(-90)" y="3">24</text><text class="n" transform="translate(33.3,13)rotate(-90)" y="3">26</text></g>
<g id="ati-1" class="bx" transform="translate(723,1334)"><rect width="41" height="162"/><path d="M0 26H41M13.7 0V26M27.3 0V26"/><text class="b" transform="translate(20.5,94)rotate(-90)" y="3.4">Sectia A.T.I. I</text><text class="n" transform="translate(6.8,13)rotate(-90)" y="3">2</text><text class="n" transform="translate(20.5,13)rotate(-90)" y="3">85</text><text class="n" transform="translate(34.2,13)rotate(-90)" y="3">87</text></g>
<g id="toxicologie" class="bx" transform="translate(773,1379)"><rect width="42" height="174"/><path d="M0 24H42M14 0V24M28 0V24"/><text class="r" transform="translate(21,99)rotate(-90)" y="3.7">Compartiment <tspan font-style="italic">toxicologie</tspan></text><text class="n f" transform="translate(35,12)rotate(-90)" y="3">5</text></g>
<g id="urologie" class="bx" transform="translate(824,1334)"><rect width="41" height="162"/><path d="M0 26H41M13.7 0V26M27.3 0V26"/><text class="b" transform="translate(20.5,94)rotate(-90)" y="3.4">Sectia Urologie</text><text class="n" transform="translate(6.8,13)rotate(-90)" y="3">2</text><text class="n" transform="translate(20.5,13)rotate(-90)" y="3">20</text><text class="n" transform="translate(34.2,13)rotate(-90)" y="3">22</text></g>
<g id="neurologie" class="bx" transform="translate(874,1334)"><rect width="43" height="162"/><path d="M0 26H43M14.3 0V26M28.7 0V26"/><text class="b" transform="translate(21.5,94)rotate(-90)" y="3.4">Sectia Neurologie</text><text class="n" transform="translate(7.2,13)rotate(-90)" y="3">2</text><text class="n" transform="translate(21.5,13)rotate(-90)" y="3">51</text><text class="n" transform="translate(35.8,13)rotate(-90)" y="3">53</text></g>
<g id="recuperare-neurologie" class="bx" transform="translate(926,1382)"><rect width="42" height="172"/><path d="M0 23H42M14 0V23M28 0V23"/><text class="r" transform="translate(21,97.5)rotate(-90)"><tspan x="0" y="-2.8">Compartiment Recuperare</tspan><tspan x="0" y="10.2">Medicala Neurologie</tspan></text></g>
<g id="orl" class="bx" transform="translate(977,1336)"><rect width="45" height="162"/><path d="M0 27H45M15 0V27M30 0V27"/><text class="b" transform="translate(22.5,94.5)rotate(-90)" y="3.4">Sectia O.R.L.</text><text class="n" transform="translate(7.5,13.5)rotate(-90)" y="3">2</text><text class="n" transform="translate(22.5,13.5)rotate(-90)" y="3">22</text><text class="n" transform="translate(37.5,13.5)rotate(-90)" y="3">24</text></g>
<g id="chirurgie-orala" class="bx" transform="translate(1030,1382)"><rect width="44" height="172"/><path d="M0 23H44M14.7 0V23M29.3 0V23"/><text class="r" transform="translate(22,97.5)rotate(-90)"><tspan x="0" y="-2.8">Compartiment Chirurgie Orala</tspan><tspan x="0" y="10.2" font-style="italic">Maxilo Faciala</tspan></text><text class="n f" transform="translate(36.7,11.5)rotate(-90)" y="3">3</text></g>
<g id="oftalmologie" class="bx" transform="translate(1084,1337)"><rect width="46" height="162"/><path d="M0 27H46M15.3 0V27M30.7 0V27"/><text class="b" transform="translate(23,94.5)rotate(-90)" y="3.4">Sectia Oftalmologie</text><text class="n" transform="translate(7.7,13.5)rotate(-90)" y="3">2</text><text class="n" transform="translate(23,13.5)rotate(-90)" y="3">19</text><text class="n" transform="translate(38.3,13.5)rotate(-90)" y="3">21</text></g>

<g id="director-medical" class="bx" transform="translate(5,1569)"><rect width="40" height="154"/><path d="M0 23H40M13.3 0V23M26.7 0V23"/><text class="b" transform="translate(20,88.5)rotate(-90)" y="3.4">DIRECTOR MEDICAL</text><text class="n" transform="translate(33.3,11.5)rotate(-90)" y="3">1</text></g>
<g id="ambulatoriul" class="bx" transform="translate(63,1570)"><rect width="52" height="153"/><path d="M0 23H52M17.3 0V23M34.7 0V23"/><text class="b" transform="translate(27,88)rotate(-90)"><tspan x="0" y="-9.6">AMBULATORIUL</tspan><tspan x="0" y="3.4">INTEGRAT SPITALULUI</tspan><tspan x="0" y="16.4">(Anexa 1)</tspan></text><text class="n" transform="translate(43.3,11.5)rotate(-90)" y="3">50</text></g>
<g id="transfuzie" class="bx" transform="translate(133,1570)"><rect width="54" height="153"/><path d="M0 23H54M18 0V23M36 0V23"/><text class="s" style="font-size:7.8px" transform="translate(27,88)rotate(-90)" y="2.7">Unitate Transfuzie Sanguina</text><text class="n" transform="translate(45,11.5)rotate(-90)" y="3">14</text></g>
<g id="prevenire-infectii" class="bx" transform="translate(207,1570)"><rect width="93" height="153"/><path d="M0 23H93M15 0V23M30 0V23M49 0V23M66 0V23"/><text class="b" transform="translate(46.5,88)rotate(-90)"><tspan x="0" y="-22.6">Serviciul de prevenire  a</tspan><tspan x="0" y="-9.6">infecţiilor asociate</tspan><tspan x="0" y="3.4">asistenţei medicale -</tspan><tspan x="0" y="16.4">puncte de lucru in copr B</tspan><tspan x="0" y="29.4">si D</tspan></text><text class="n" transform="translate(79.5,11.5)rotate(-90)" y="3">17</text></g>

<g id="legenda">
<text class="b" style="font-size:9px" transform="translate(1230,327)rotate(-90)" y="3.2">LEGENDA:</text>
<g class="bx" transform="translate(1247,195)"><rect width="41" height="160"/><path d="M0 20H41M13.7 0V20M27.3 0V20"/><text class="b" transform="translate(20.5,90)rotate(-90)" y="3.4">- Sectia ...</text></g>
<text class="lg" transform="translate(1254,175)rotate(-90)" y="3.6">Nr. Posturi de conducere</text>
<text class="lg" transform="translate(1268,175)rotate(-90)" y="3.6">Nr. Posturi de executie</text>
<text class="lg" style="font-size:9.6px" transform="translate(1282,175)rotate(-90)" y="3.5">TOTAL numar posturi de conducere si e</text>
</g>
</svg>
